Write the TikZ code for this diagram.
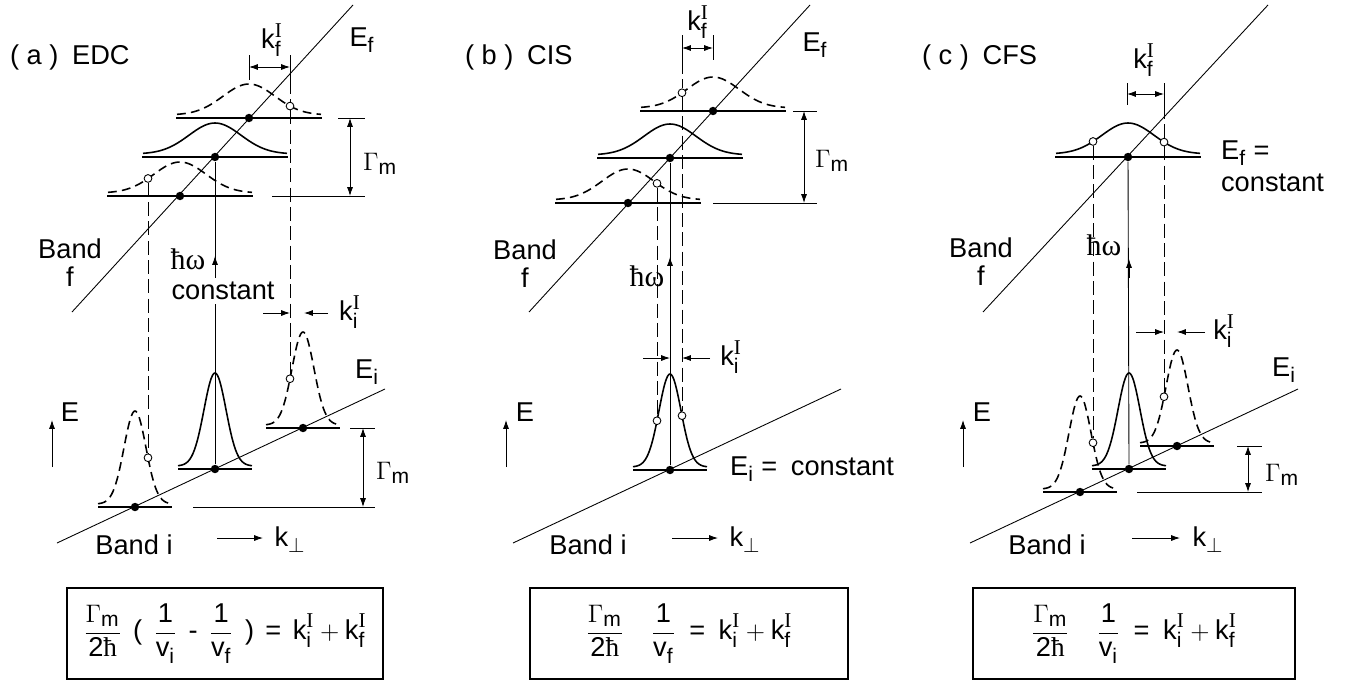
\documentclass[tikz,border=0pt]{standalone}
\usepackage{amsmath}
\usepackage{fontspec}
\setmainfont{Liberation Sans}
\newfontfamily\romfont{Liberation Serif}
\usetikzlibrary{arrows.meta}
\DeclareMathSizes{15.5}{15.5}{12}{9}

\newcommand{\kI}[1]{\text{k}_{\text{#1}}^{\text{\romfont I}}}
\newcommand{\hbr}{{\romfont ħ}}
\newcommand{\hbw}{{\fontsize{17}{18}\selectfont\romfont ħω}}
\newcommand{\gp}{\hspace{0.42em}}

\begin{document}
\begin{tikzpicture}[x=0.02cm, y=-0.02cm, font=\fontsize{15.5}{16}\selectfont,
    >={Latex[length=5pt,width=3.4pt]},
    bandline/.style={line width=0.5pt},
    baseln/.style={line width=1.2pt},
    peakline/.style={line width=0.9pt},
    dsh/.style={dash pattern=on 5pt off 3pt},
    proj/.style={line width=0.5pt, dash pattern=on 8pt off 3pt},
    dimline/.style={line width=0.5pt},
    fdot/.style={circle, fill, inner sep=0pt, minimum size=4.8pt},
    odot/.style={circle, draw, fill=white, line width=0.5pt, inner sep=0pt,
                 minimum size=4.4pt},
    lbl/.style={inner sep=1pt},
    eqbox/.style={draw, line width=0.8pt, minimum height=1.82cm}]

\useasboundingbox (0,0) rectangle (1351,683);

% --- (a) EDC ----------------------------------------------------------------
\node[lbl, anchor=west] (ta) at (8,57) {( a )\enspace EDC};
\draw[bandline] (72,312) -- (353,5);
\draw[bandline] (57,543) -- (385,389);

% wide peaks on band f -- centre/base/style/name
\foreach \cx/\by/\sty/\n in {249/118/dsh/1, 215/157/solid/2, 180/196/dsh/3}
{
  \draw[baseln] (\cx-73,\by) -- (\cx+73,\by);
  \draw[peakline, \sty] plot[domain=-72:72, samples=61, smooth]
      ({\cx+\x},{\by-3-31*exp(-(\x)*(\x)/1352)});
  \node[fdot] (a\n) at (\cx,\by) {};
}
% narrow peaks on band i
\foreach \cx/\by/\sty/\n in {135/507/dsh/4, 215/469/solid/5, 303/428/dsh/6}
{
  \draw[baseln] (\cx-37,\by) -- (\cx+37,\by);
  \draw[peakline, \sty] plot[domain=-37:37, samples=61, smooth]
      ({\cx+\x},{\by-3-93*exp(-(\x)*(\x)/242)});
  \node[fdot] (a\n) at (\cx,\by) {};
}
% open circles -- centre/base/offset/height/2 sigma^2/name
\foreach \cx/\by/\dx/\h/\s/\n in {249/118/41/31/1352/1, 180/196/-32/31/1352/2,
                                  135/507/13/93/242/3, 303/428/-13/93/242/4}
{
  \pgfmathsetmacro{\cy}{\by-3-\h*exp(-(\dx)*(\dx)/\s)}
  \node[odot] (oa\n) at (\cx+\dx,\cy) {};
}

\draw[dimline] (249,55) -- (249,80);
\draw[dimline] (290,55) -- (290,80);
\coordinate (kfa) at (290,80);
\draw[dimline, <->] (249,67) -- (290,67);
\node[lbl] (lkfa) at (272,40) {$\kI{f}$};
\draw[proj] (kfa) -- (oa1);
\draw[proj] (oa1) -- (oa4);
\draw[proj] (oa2) -- (oa3);

\draw[dimline, ->] (263,313) -- (290,313);
\draw[dimline, ->] (328,313) -- (304,313);
\node[lbl] (lkia) at (350,312) {$\kI{i}$};

\draw[dimline] (a5) -- (a2);
\draw[dimline, ->] (215,274) -- (215,256);
\node[lbl] (hwa) at (188,259) {\hbw};
\node[fill=white, inner xsep=1pt, inner ysep=2.5pt] (cna) at (223,291) {constant};

\draw[dimline] (338,118) -- (365,118);
\draw[dimline] (272,196) -- (365,196);
\draw[dimline, <->] (350,118) -- (350,196);
\node[lbl] (gua) at (380,164) {$\Gamma_\text{m}$};
\draw[dimline] (350,428) -- (375,428);
\draw[dimline] (193,507) -- (375,507);
\draw[dimline, <->] (363,428) -- (363,507);
\node[lbl] (gla) at (393,473) {$\Gamma_\text{m}$};

\node[lbl] (efa) at (362,40) {E$_\text{f}$};
\node[lbl] (eia) at (367,372) {E$_\text{i}$};
\draw[dimline, ->] (52,467) -- (52,420);
\node[lbl] (ea) at (70,412) {E};
\node[lbl, align=center] (bfa) at (70,263) {Band\\f};
\node[lbl] (bia) at (134,545) {Band i};
\draw[dimline, ->] (217,538) -- (263,538);
\node[lbl] (kpa) at (290,540) {k$_\perp$};

\node[eqbox, minimum width=6.32cm] (eqa) at (225,633.5)
  {$\dfrac{\Gamma_\text{m}}{\text{2\hbr}}$\gp(\gp$\dfrac{\text{1}}{\text{v}_\text{i}}$\gp-\gp$\dfrac{\text{1}}{\text{v}_\text{f}}$\gp)\gp=\gp$\kI{i}+\kI{f}$};

% --- (b) CIS ----------------------------------------------------------------
\node[lbl, anchor=west] (tb) at (463,57) {( b )\enspace CIS};
\draw[bandline] (529,312) -- (810,5);
\draw[bandline] (513,543) -- (841,389);

\foreach \cx/\by/\sty/\n in {713/111/dsh/1, 670/158/solid/2, 628/203/dsh/3}
{
  \draw[baseln] (\cx-73,\by) -- (\cx+73,\by);
  \draw[peakline, \sty] plot[domain=-72:72, samples=61, smooth]
      ({\cx+\x},{\by-3-31*exp(-(\x)*(\x)/1352)});
  \node[fdot] (b\n) at (\cx,\by) {};
}
\draw[baseln] (633,470) -- (707,470);
\draw[peakline] plot[domain=-37:37, samples=61, smooth]
    ({670+\x},{467-93*exp(-(\x)*(\x)/242)});
\node[fdot] (b4) at (670,470) {};
\foreach \cx/\by/\dx/\h/\s/\n in {713/111/-31/31/1352/1, 628/203/29/31/1352/2,
                                  670/470/-13/93/242/3, 670/470/12/93/242/4}
{
  \pgfmathsetmacro{\cy}{\by-3-\h*exp(-(\dx)*(\dx)/\s)}
  \node[odot] (ob\n) at (\cx+\dx,\cy) {};
}

\draw[dimline] (682,35) -- (682,60);
\draw[dimline] (713,35) -- (713,60);
\coordinate (kfb) at (682,60);
\draw[dimline, <->] (682,48) -- (713,48);
\node[lbl] (lkfb) at (698,22) {$\kI{f}$};
\draw[proj] (kfb) -- (ob1);
\draw[proj] (ob1) -- (ob4);
\draw[proj] (ob2) -- (ob3);

\draw[dimline, ->] (643,358) -- (670,358);
\draw[dimline, ->] (710,358) -- (682,358);
\node[lbl] (lkib) at (731,357) {$\kI{i}$};

\draw[dimline] (b4) -- (b2);
\draw[dimline, ->] (670,276) -- (670,257);
\node[lbl] (hwb) at (647,276) {\hbw};

\draw[dimline] (793,111) -- (817,111);
\draw[dimline] (713,203) -- (817,203);
\draw[dimline, <->] (804,111) -- (804,203);
\node[lbl] (gub) at (832,161) {$\Gamma_\text{m}$};

\node[lbl] (efb) at (815,45) {E$_\text{f}$};
\node[lbl, anchor=west] (eib) at (728,469) {E$_\text{i}$ =\enspace constant};
\draw[dimline, ->] (506,467) -- (506,420);
\node[lbl] (eb) at (525,412) {E};
\node[lbl, align=center] (bfb) at (525,264) {Band\\f};
\node[lbl] (bib) at (588,545) {Band i};
\draw[dimline, ->] (672,538) -- (718,538);
\node[lbl] (kpb) at (745,540) {k$_\perp$};

\node[eqbox, minimum width=6.36cm] (eqb) at (689,633.5)
  {$\dfrac{\Gamma_\text{m}}{\text{2\hbr}}$\quad$\dfrac{\text{1}}{\text{v}_\text{f}}$\enspace=\enspace$\kI{i}+\kI{f}$};

% --- (c) CFS ----------------------------------------------------------------
\node[lbl, anchor=west] (tc) at (920,57) {( c )\enspace CFS};
\draw[bandline] (983,312) -- (1268,5);
\draw[bandline] (970,543) -- (1298,389);

\draw[baseln] (1055,157) -- (1201,157);
\draw[peakline] plot[domain=-72:72, samples=61, smooth]
    ({1128+\x},{154-31*exp(-(\x)*(\x)/1352)});
\node[fdot] (c1) at (1128,157) {};
\foreach \cx/\by/\sty/\n in {1080/492/dsh/2, 1129/469/solid/3, 1177/446/dsh/4}
{
  \draw[baseln] (\cx-37,\by) -- (\cx+37,\by);
  \draw[peakline, \sty] plot[domain=-37:37, samples=61, smooth]
      ({\cx+\x},{\by-3-93*exp(-(\x)*(\x)/242)});
  \node[fdot] (c\n) at (\cx,\by) {};
}
\foreach \cx/\by/\dx/\h/\s/\n in {1128/157/-35/31/1352/1, 1128/157/36/31/1352/2,
                                  1080/492/13/93/242/3, 1177/446/-13/93/242/4}
{
  \pgfmathsetmacro{\cy}{\by-3-\h*exp(-(\dx)*(\dx)/\s)}
  \node[odot] (oc\n) at (\cx+\dx,\cy) {};
}

\draw[dimline] (1127,83) -- (1127,105);
\draw[dimline] (1164,83) -- (1164,105);
\coordinate (kfc) at (1164,105);
\draw[dimline, <->] (1127,94) -- (1164,94);
\node[lbl] (lkfc) at (1144,60) {$\kI{f}$};
\draw[proj] (kfc) -- (oc2);
\draw[proj] (oc2) -- (oc4);
\draw[proj] (oc1) -- (oc3);

\draw[dimline, ->] (1136,332) -- (1164,332);
\draw[dimline, ->] (1205,332) -- (1177,332);
\node[lbl] (lkic) at (1224,331) {$\kI{i}$};

\draw[dimline] (c3) -- (c1);
\draw[dimline, ->] (1129,278) -- (1129,259);
\node[lbl] (hwc) at (1104,245) {\hbw};

\draw[dimline] (1237,446) -- (1262,446);
\draw[dimline] (1137,492) -- (1262,492);
\draw[dimline, <->] (1248,446) -- (1248,492);
\node[lbl] (glc) at (1282,475) {$\Gamma_\text{m}$};

\node[lbl, anchor=west, align=left] (efc) at (1219,166) {E$_\text{f}$ =\\[2pt]constant};
\node[lbl] (eic) at (1284,370) {E$_\text{i}$};
\draw[dimline, ->] (963,467) -- (963,420);
\node[lbl] (ec) at (982,412) {E};
\node[lbl, align=center] (bfc) at (981,262) {Band\\f};
\node[lbl] (bic) at (1047,545) {Band i};
\draw[dimline, ->] (1132,538) -- (1180,538);
\node[lbl] (kpc) at (1208,540) {k$_\perp$};

\node[eqbox, minimum width=6.44cm] (eqc) at (1134,633.5)
  {$\dfrac{\Gamma_\text{m}}{\text{2\hbr}}$\quad$\dfrac{\text{1}}{\text{v}_\text{i}}$\enspace=\enspace$\kI{i}+\kI{f}$};
\end{tikzpicture}
\end{document}
